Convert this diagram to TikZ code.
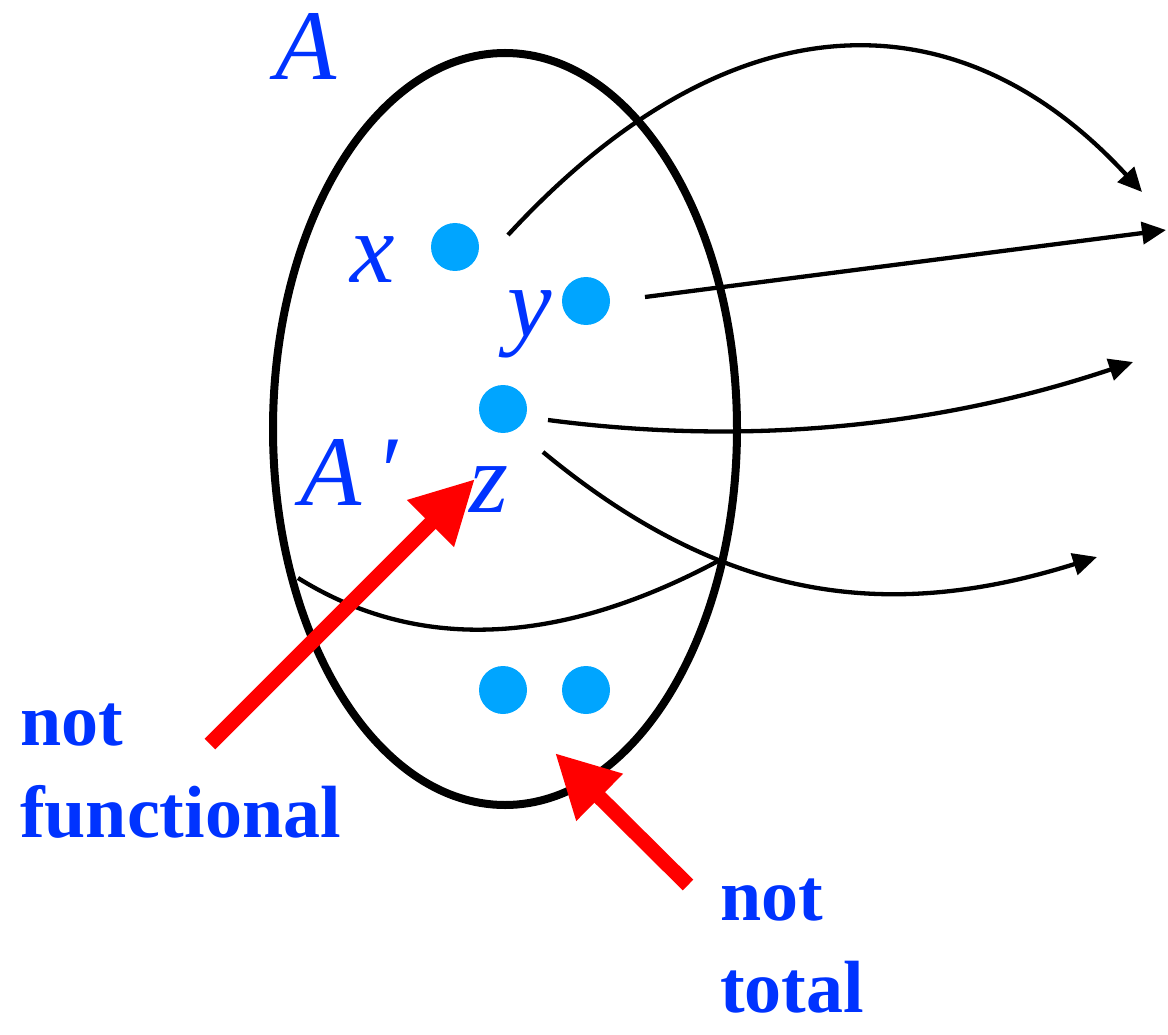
\documentclass[tikz,border=0pt]{standalone}
\usepackage{fontspec}
\setmainfont{Liberation Serif}[ItalicFont=* Italic, BoldFont=* Bold]
\usepackage{tikz}
\usetikzlibrary{arrows.meta}
\definecolor{fnBlue}{HTML}{0033FF}
\definecolor{fnDot}{HTML}{00A5FF}
\definecolor{fnRed}{HTML}{FF0000}

\begin{document}
\begin{tikzpicture}[x=1pt, y=-1pt,
  elem/.style={fill=fnDot, circle, inner sep=0pt, minimum size=48pt},
  setlbl/.style={text=fnBlue, font=\fontsize{100}{100}\selectfont\itshape, anchor=base, inner sep=0pt},
  note/.style={text=fnBlue, font=\fontsize{74}{92}\selectfont\bfseries, align=left, anchor=base west, inner sep=0pt},
  mapto/.style={line width=4.3pt, -{Triangle[length=24pt,width=22pt]}},
  hint/.style={fnRed, line width=15pt, -{Triangle[length=63pt,width=62pt]}}]
  \useasboundingbox (0,0) rectangle (1168,1035);
  % menge A und teilmenge A'
  \draw[line width=8pt] (505,429) ellipse [x radius=232pt, y radius=376pt];
  \draw[line width=4.3pt] (298,578) .. controls (417,652) and (558,647) .. (720,560);
  % elemente
  \node[elem] (dx) at (455,247){};
  \node[elem] (dy) at (586,301){};
  \node[elem] (dz) at (503,409){};
  \node[elem] (dp) at (503,690){};
  \node[elem] (dq) at (586,690){};
  % beschriftungen
  \node[setlbl] (lA) at (306,80){A};
  \node[setlbl] (lx) at (373,283){x};
  \node[setlbl] (ly) at (530,336){y};
  \node[setlbl, anchor=base west] (lAp) at (300,505){A\kern14pt′};
  \node[setlbl] (lz) at (489,512){z};
  % abbildungspfeile
  \coordinate (sx) at (508,235); \coordinate (ex) at (1142,192);
  \coordinate (sy) at (645,297); \coordinate (ey) at (1166,230);
  \coordinate (sz) at (548,420); \coordinate (ez) at (1133,362);
  \coordinate (sw) at (543,452); \coordinate (ew) at (1097,557);
  \draw[mapto] (sx) .. controls (731,-7) and (959,-7) .. (ex);
  \draw[mapto] (sy) -- (ey);
  \draw[mapto] (sz) .. controls (700,440) and (900,440) .. (ez);
  \draw[mapto] (sw) .. controls (723,601) and (887,623) .. (ew);
  % hinweise
  \node[note] (nf) at (20,837){not\\functional};
  \node[note] (nt) at (720,1012){not\\total};
  \coordinate (tf) at (210,744); \coordinate (hf) at (475,479);
  \coordinate (tt) at (688,885); \coordinate (ht) at (555,753);
  \draw[hint] (tf) -- (hf);
  \draw[hint] (tt) -- (ht);
\end{tikzpicture}
\end{document}
